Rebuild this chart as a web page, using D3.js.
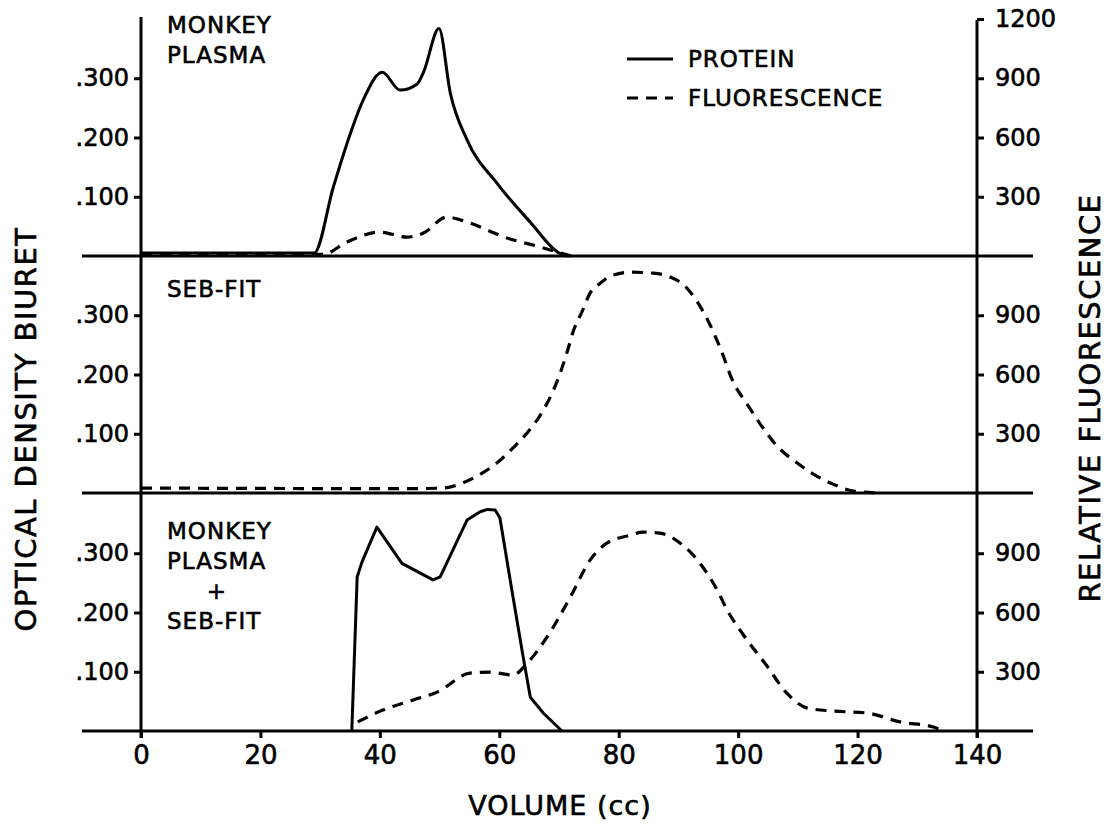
<!DOCTYPE html>
<html>
<head>
<meta charset="utf-8">
<script src="https://cdn.jsdelivr.net/npm/d3@7"></script>
<style>
  body { margin: 0; background: #fff; }
  text { font-family: "DejaVu Sans", sans-serif; fill: #000; stroke: #000; stroke-width: 0.6px; }
</style>
</head>
<body>
<svg id="chart"></svg>
<script>
var w = 1110;
var h = 826;

// panel 1: monkey plasma
var plasmaProtVol = [0, 29, 32.2, 34.5, 37.2, 40.4, 43.4, 46.2, 47.3, 49.9, 51.8, 54.6, 59.6, 65.2, 70.2, 71.5];
var plasmaProt = [0.005, 0.005, 0.116, 0.19, 0.263, 0.31, 0.28, 0.29, 0.31, 0.384, 0.275, 0.196, 0.123, 0.057, 0.004, 0];
var plasmaFluVol = [0, 29, 30.5, 34.5, 40, 44.5, 47.3, 51.2, 54.6, 61.3, 66.8, 69.7, 72];
var plasmaFlu = [10, 10, 8, 71, 121, 96, 116, 197, 172, 91, 46, 20, 0];

// panel 2: SEB-FIT
var sebFluVol = [0, 44.6, 50.6, 53.4, 56.3, 59.6, 62.3, 65.2, 67.3, 69, 70.2, 71.4, 72.4, 73.9, 75.2, 76.9, 78.6, 81.9, 85.8, 88.5, 91, 93, 95, 97, 99.2, 101.5, 103.7, 106.5, 109.9, 112.6, 115.9, 119.3, 123.8];
var sebFlu = [25, 22, 25, 45, 86, 152, 228, 324, 415, 516, 607, 718, 820, 921, 1012, 1062, 1098, 1118, 1113, 1095, 1050, 975, 870, 734, 560, 450, 349, 238, 152, 96, 45, 10, 0];

// panel 3: monkey plasma + SEB-FIT
var mixProtVol = [35.3, 36.2, 37, 39.5, 43.7, 48.9, 50.1, 54.6, 56.8, 58, 59.3, 60.1, 62.1, 64, 65.2, 67.4, 70.5];
var mixProt = [0, 0.26, 0.285, 0.344, 0.283, 0.255, 0.26, 0.356, 0.37, 0.374, 0.373, 0.36, 0.238, 0.125, 0.057, 0.03, 0];
var mixFluVol = [36.3, 40.5, 45.6, 49.6, 55.1, 58.5, 62.3, 64.7, 68, 71.9, 75.2, 78, 81.9, 84.1, 86.9, 90.3, 93.6, 96.5, 98.2, 100.8, 104.8, 108.2, 111.6, 116, 121.6, 127.1, 132.7, 134.3];
var mixFlu = [46, 106, 157, 197, 293, 298, 283, 344, 476, 678, 865, 951, 991, 1007, 1002, 951, 850, 713, 610, 490, 330, 190, 116, 101, 91, 46, 20, 0];

var xTicks = [0, 20, 40, 60, 80, 100, 120, 140];
var odTicks = [0.1, 0.2, 0.3];
var fluTicks = [300, 600, 900];
var panelLabels = [["MONKEY", "PLASMA"], ["SEB-FIT"], ["MONKEY", "PLASMA", "+", "SEB-FIT"]];

var svg = d3.select('#chart').attr('width', w).attr('height', h);

var x = d3.scaleLinear().domain([0, 140]).range([141, 977]);
var bases = [256, 493, 731];
var ph = 237;

var smooth = d3.line().curve(d3.curveMonotoneX);
var straight = d3.line();

function zip(a, b) {
  return a.map(function (v, i) { return [v, b[i]]; });
}

var panels = [
  { prot: zip(plasmaProtVol, plasmaProt), flu: zip(plasmaFluVol, plasmaFlu), protLine: smooth },
  { prot: null, flu: zip(sebFluVol, sebFlu) },
  { prot: zip(mixProtVol, mixProt), flu: zip(mixFluVol, mixFlu), protLine: straight }
];

// vertical axis lines
svg.append('line').attr('x1', x(0)).attr('x2', x(0)).attr('y1', 17).attr('y2', 738)
  .attr('stroke', '#000').attr('stroke-width', 3);
svg.append('line').attr('x1', x(140)).attr('x2', x(140)).attr('y1', 20).attr('y2', 738)
  .attr('stroke', '#000').attr('stroke-width', 3);

panels.forEach(function (p, i) {
  var base = bases[i];
  var yL = d3.scaleLinear().domain([0, 0.4]).range([base, base - ph]);
  var yR = d3.scaleLinear().domain([0, 1200]).range([base, base - ph]);

  // baseline
  svg.append('line').attr('x1', 82).attr('x2', 1033).attr('y1', base).attr('y2', base)
    .attr('stroke', '#000').attr('stroke-width', 3);

  var gl = svg.append('g').attr('transform', 'translate(' + x(0) + ',0)')
    .call(d3.axisLeft(yL).tickValues(odTicks).tickSize(7).tickPadding(5)
      .tickFormat(function (d) { return '.' + Math.round(d * 1000); }));
  var gr = svg.append('g').attr('transform', 'translate(' + x(140) + ',0)')
    .call(d3.axisRight(yR).tickValues(i === 0 ? fluTicks.concat([1200]) : fluTicks)
      .tickSize(7).tickPadding(11).tickFormat(d3.format('d')));
  [gl, gr].forEach(function (g) {
    g.select('.domain').remove();
    g.selectAll('.tick line').attr('stroke', '#000').attr('stroke-width', 3);
    g.selectAll('.tick text').style('font-size', '24px').attr('fill', '#000');
  });

  if (p.prot) {
    svg.append('path').datum(p.prot)
      .attr('d', p.protLine.x(function (d) { return x(d[0]); }).y(function (d) { return yL(d[1]); }))
      .attr('fill', 'none').attr('stroke', '#000').attr('stroke-width', 3)
      .attr('stroke-linejoin', 'round');
  }
  svg.append('path').datum(p.flu)
    .attr('d', smooth.x(function (d) { return x(d[0]); }).y(function (d) { return yR(d[1]); }))
    .attr('fill', 'none').attr('stroke', '#000').attr('stroke-width', 3.2)
    .attr('stroke-dasharray', '11,8');

  // panel labels
  var top = [25, 289, 531][i];
  svg.selectAll('.lab' + i).data(panelLabels[i]).enter().append('text')
    .attr('x', function (d) { return d === '+' ? 217 : 167; })
    .attr('y', function (d, j) { return top + j * 30; })
    .attr('dy', '0.36em')
    .attr('text-anchor', function (d) { return d === '+' ? 'middle' : 'start'; })
    .style('font-size', '23px').style('letter-spacing', '1px')
    .text(function (d) { return d; });
});

// x axis
var gx = svg.append('g').attr('transform', 'translate(0,' + bases[2] + ')')
  .call(d3.axisBottom(x).tickValues(xTicks).tickSize(7).tickPadding(8));
gx.select('.domain').remove();
gx.selectAll('.tick line').attr('stroke', '#000').attr('stroke-width', 3);
gx.selectAll('.tick text').style('font-size', '26px').attr('fill', '#000');

// axis titles
svg.append('text').attr('transform', 'translate(26,429) rotate(-90)')
  .attr('text-anchor', 'middle').attr('dy', '0.36em')
  .style('font-size', '29px').style('letter-spacing', '1.5px')
  .text('OPTICAL DENSITY BIURET');
svg.append('text').attr('transform', 'translate(1090,398) rotate(-90)')
  .attr('text-anchor', 'middle').attr('dy', '0.36em')
  .style('font-size', '29px').style('letter-spacing', '1.5px')
  .text('RELATIVE  FLUORESCENCE');
svg.append('text').attr('x', 560).attr('y', 805).attr('dy', '0.36em')
  .attr('text-anchor', 'middle').style('font-size', '27px').style('letter-spacing', '1px')
  .text('VOLUME (cc)');

// legend
var legend = [{ name: 'PROTEIN', dash: null, y: 59 }, { name: 'FLUORESCENCE', dash: '11,8', y: 98 }];
legend.forEach(function (l) {
  svg.append('line').attr('x1', 627).attr('x2', 673).attr('y1', l.y).attr('y2', l.y)
    .attr('stroke', '#000').attr('stroke-width', 3).attr('stroke-dasharray', l.dash);
  svg.append('text').attr('x', 688).attr('y', l.y).attr('dy', '0.36em')
    .style('font-size', '23px').style('letter-spacing', '1px').text(l.name);
});
</script>
</body>
</html>
